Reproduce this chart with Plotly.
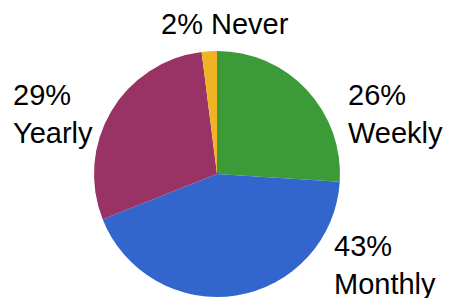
import plotly.graph_objects as go

labels = ["Weekly", "Monthly", "Yearly", "Never"]
values = [26, 43, 29, 2]
colors = ["#3a9b38", "#3366cc", "#993366", "#f0b323"]

W, H = 449, 298

fig = go.Figure(go.Pie(
    labels=labels, values=values, sort=False, direction="clockwise", rotation=0,
    marker=dict(colors=colors, line=dict(width=0)),
    textinfo="none", hoverinfo="label+percent", showlegend=False,
    domain=dict(x=[94 / W, 340 / W], y=[1 - 297 / H, 1 - 51 / H]),
))

# label placements (pixels from top-left)
label_pos = {
    "Weekly": (346, 114, "left"),
    "Monthly": (332, 265, "left"),
    "Yearly": (11, 114, "left"),
    "Never": (225, 24, "center"),
}
for lab, v in zip(labels, values):
    x, y, anchor = label_pos[lab]
    txt = f"{v}% {lab}" if lab == "Never" else f"{v}%<br>{lab}"
    fig.add_annotation(
        x=x / W, y=1 - y / H, xref="paper", yref="paper",
        text=txt, showarrow=False, xanchor=anchor, yanchor="middle", align="left",
        font=dict(family="Liberation Sans, Arial, sans-serif", size=29, color="#000000"),
    )

fig.update_layout(
    width=W, height=H, margin=dict(l=0, r=0, t=0, b=0),
    paper_bgcolor="white", plot_bgcolor="white",
)
fig.write_html("out.html", post_script="document.body.style.margin='0';",
               config={"displayModeBar": False})
